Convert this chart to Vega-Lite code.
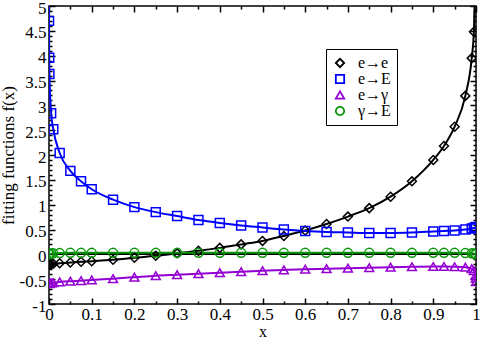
{
  "$schema": "https://vega.github.io/schema/vega-lite/v6.json",
  "width": 427,
  "height": 298,
  "autosize": "none",
  "padding": {"left": 49, "top": 6, "right": 6, "bottom": 35},
  "background": "white",
  "config": {
    "view": {"stroke": "black", "strokeWidth": 1.5},
    "axis": {"domain": false, "grid": false, "tickColor": "black", "tickWidth": 1.5, "labelColor": "black", "titleColor": "black"}
  },
  "data": {"values": [
    {"x": 0.0001, "s": "e→e", "y": -0.2}, {"x": 0.0005, "s": "e→e", "y": -0.2}, {"x": 0.001, "s": "e→e", "y": -0.2},
    {"x": 0.005, "s": "e→e", "y": -0.195}, {"x": 0.01, "s": "e→e", "y": -0.19}, {"x": 0.025, "s": "e→e", "y": -0.18},
    {"x": 0.05, "s": "e→e", "y": -0.165}, {"x": 0.075, "s": "e→e", "y": -0.15}, {"x": 0.1, "s": "e→e", "y": -0.14},
    {"x": 0.15, "s": "e→e", "y": -0.11}, {"x": 0.2, "s": "e→e", "y": -0.07}, {"x": 0.25, "s": "e→e", "y": -0.03},
    {"x": 0.3, "s": "e→e", "y": 0.02}, {"x": 0.35, "s": "e→e", "y": 0.07}, {"x": 0.4, "s": "e→e", "y": 0.13},
    {"x": 0.45, "s": "e→e", "y": 0.2}, {"x": 0.5, "s": "e→e", "y": 0.27}, {"x": 0.55, "s": "e→e", "y": 0.37},
    {"x": 0.6, "s": "e→e", "y": 0.48}, {"x": 0.65, "s": "e→e", "y": 0.61}, {"x": 0.7, "s": "e→e", "y": 0.76},
    {"x": 0.75, "s": "e→e", "y": 0.93}, {"x": 0.8, "s": "e→e", "y": 1.16}, {"x": 0.85, "s": "e→e", "y": 1.47},
    {"x": 0.9, "s": "e→e", "y": 1.9}, {"x": 0.925, "s": "e→e", "y": 2.18}, {"x": 0.95, "s": "e→e", "y": 2.57},
    {"x": 0.975, "s": "e→e", "y": 3.19}, {"x": 0.99, "s": "e→e", "y": 3.95}, {"x": 0.995, "s": "e→e", "y": 4.48},
    {"x": 0.999, "s": "e→e", "y": 6.0},

    {"x": 0.00001, "s": "e→E", "y": 6.0}, {"x": 0.0001, "s": "e→E", "y": 4.7}, {"x": 0.0005, "s": "e→E", "y": 3.96},
    {"x": 0.001, "s": "e→E", "y": 3.63}, {"x": 0.005, "s": "e→E", "y": 2.84}, {"x": 0.01, "s": "e→E", "y": 2.52},
    {"x": 0.025, "s": "e→E", "y": 2.04}, {"x": 0.05, "s": "e→E", "y": 1.68}, {"x": 0.075, "s": "e→E", "y": 1.47},
    {"x": 0.1, "s": "e→E", "y": 1.31}, {"x": 0.15, "s": "e→E", "y": 1.1}, {"x": 0.2, "s": "e→E", "y": 0.95},
    {"x": 0.25, "s": "e→E", "y": 0.85}, {"x": 0.3, "s": "e→E", "y": 0.77}, {"x": 0.35, "s": "e→E", "y": 0.69},
    {"x": 0.4, "s": "e→E", "y": 0.63}, {"x": 0.45, "s": "e→E", "y": 0.58}, {"x": 0.5, "s": "e→E", "y": 0.54},
    {"x": 0.55, "s": "e→E", "y": 0.5}, {"x": 0.6, "s": "e→E", "y": 0.47}, {"x": 0.65, "s": "e→E", "y": 0.45},
    {"x": 0.7, "s": "e→E", "y": 0.44}, {"x": 0.75, "s": "e→E", "y": 0.43}, {"x": 0.8, "s": "e→E", "y": 0.43},
    {"x": 0.85, "s": "e→E", "y": 0.44}, {"x": 0.9, "s": "e→E", "y": 0.46}, {"x": 0.925, "s": "e→E", "y": 0.47},
    {"x": 0.95, "s": "e→E", "y": 0.48}, {"x": 0.975, "s": "e→E", "y": 0.5}, {"x": 0.99, "s": "e→E", "y": 0.52},
    {"x": 0.995, "s": "e→E", "y": 0.53}, {"x": 0.999, "s": "e→E", "y": 0.54}, {"x": 0.9995, "s": "e→E", "y": 0.545},
    {"x": 0.9999, "s": "e→E", "y": 0.55},

    {"x": 0.0001, "s": "e→γ", "y": -0.59}, {"x": 0.0005, "s": "e→γ", "y": -0.585}, {"x": 0.001, "s": "e→γ", "y": -0.58},
    {"x": 0.005, "s": "e→γ", "y": -0.575}, {"x": 0.01, "s": "e→γ", "y": -0.57}, {"x": 0.025, "s": "e→γ", "y": -0.555},
    {"x": 0.05, "s": "e→γ", "y": -0.54}, {"x": 0.075, "s": "e→γ", "y": -0.53}, {"x": 0.1, "s": "e→γ", "y": -0.515},
    {"x": 0.15, "s": "e→γ", "y": -0.49}, {"x": 0.2, "s": "e→γ", "y": -0.46}, {"x": 0.25, "s": "e→γ", "y": -0.43},
    {"x": 0.3, "s": "e→γ", "y": -0.41}, {"x": 0.35, "s": "e→γ", "y": -0.39}, {"x": 0.4, "s": "e→γ", "y": -0.37},
    {"x": 0.45, "s": "e→γ", "y": -0.35}, {"x": 0.5, "s": "e→γ", "y": -0.33}, {"x": 0.55, "s": "e→γ", "y": -0.315},
    {"x": 0.6, "s": "e→γ", "y": -0.3}, {"x": 0.65, "s": "e→γ", "y": -0.29}, {"x": 0.7, "s": "e→γ", "y": -0.28},
    {"x": 0.75, "s": "e→γ", "y": -0.27}, {"x": 0.8, "s": "e→γ", "y": -0.26}, {"x": 0.85, "s": "e→γ", "y": -0.25},
    {"x": 0.9, "s": "e→γ", "y": -0.245}, {"x": 0.925, "s": "e→γ", "y": -0.245}, {"x": 0.95, "s": "e→γ", "y": -0.25},
    {"x": 0.975, "s": "e→γ", "y": -0.26}, {"x": 0.99, "s": "e→γ", "y": -0.29}, {"x": 0.995, "s": "e→γ", "y": -0.33},
    {"x": 0.999, "s": "e→γ", "y": -0.42}, {"x": 0.9995, "s": "e→γ", "y": -0.48}, {"x": 0.9999, "s": "e→γ", "y": -0.55},

    {"x": 0.0001, "s": "γ→E", "y": 0.0}, {"x": 0.0005, "s": "γ→E", "y": 0.005}, {"x": 0.001, "s": "γ→E", "y": 0.01},
    {"x": 0.005, "s": "γ→E", "y": 0.015}, {"x": 0.01, "s": "γ→E", "y": 0.02}, {"x": 0.025, "s": "γ→E", "y": 0.025},
    {"x": 0.05, "s": "γ→E", "y": 0.03}, {"x": 0.075, "s": "γ→E", "y": 0.03}, {"x": 0.1, "s": "γ→E", "y": 0.03},
    {"x": 0.15, "s": "γ→E", "y": 0.03}, {"x": 0.2, "s": "γ→E", "y": 0.03}, {"x": 0.25, "s": "γ→E", "y": 0.03},
    {"x": 0.3, "s": "γ→E", "y": 0.03}, {"x": 0.35, "s": "γ→E", "y": 0.03}, {"x": 0.4, "s": "γ→E", "y": 0.03},
    {"x": 0.45, "s": "γ→E", "y": 0.03}, {"x": 0.5, "s": "γ→E", "y": 0.03}, {"x": 0.55, "s": "γ→E", "y": 0.03},
    {"x": 0.6, "s": "γ→E", "y": 0.03}, {"x": 0.65, "s": "γ→E", "y": 0.03}, {"x": 0.7, "s": "γ→E", "y": 0.03},
    {"x": 0.75, "s": "γ→E", "y": 0.03}, {"x": 0.8, "s": "γ→E", "y": 0.03}, {"x": 0.85, "s": "γ→E", "y": 0.03},
    {"x": 0.9, "s": "γ→E", "y": 0.03}, {"x": 0.925, "s": "γ→E", "y": 0.03}, {"x": 0.95, "s": "γ→E", "y": 0.03},
    {"x": 0.975, "s": "γ→E", "y": 0.025}, {"x": 0.99, "s": "γ→E", "y": 0.02}, {"x": 0.995, "s": "γ→E", "y": 0.015},
    {"x": 0.999, "s": "γ→E", "y": 0.005}, {"x": 0.9995, "s": "γ→E", "y": 0.0}
  ]},
  "resolve": {"axis": {"x": "independent", "y": "independent"}},
  "layer": [
    {
      "mark": {"type": "rule", "color": "black", "strokeWidth": 1},
      "encoding": {"y": {"datum": 0, "type": "quantitative", "scale": {"domain": [-1, 5], "nice": false, "zero": false}, "axis": null}}
    },
    {
      "mark": {"type": "line", "strokeWidth": 2, "interpolate": "monotone", "clip": true},
      "encoding": {
        "x": {"field": "x", "type": "quantitative", "scale": {"domain": [0, 1], "nice": false, "zero": false},
          "axis": {"orient": "bottom", "values": [0, 0.1, 0.2, 0.3, 0.4, 0.5, 0.6, 0.7, 0.8, 0.9, 1], "tickSize": -6, "labelPadding": 8, "labelExpr": "'' + datum.value", "labelFlush": false, "labelFont": "Liberation Serif", "labelFontSize": 17, "title": "x", "titleFont": "Liberation Serif", "titleFontSize": 16, "titleFontWeight": "normal", "titlePadding": 1}},
        "y": {"field": "y", "type": "quantitative", "scale": {"domain": [-1, 5], "nice": false, "zero": false},
          "axis": {"orient": "left", "values": [-1, -0.5, 0, 0.5, 1, 1.5, 2, 2.5, 3, 3.5, 4, 4.5, 5], "tickSize": -6, "labelPadding": 9, "labelExpr": "'' + datum.value", "labelFlush": false, "labelOffset": 2, "labelFont": "Liberation Serif", "labelFontSize": 17, "title": "fitting functions f(x)", "titleFont": "Liberation Serif", "titleFontSize": 17, "titleFontWeight": "normal", "titlePadding": 2}},
        "color": {"field": "s", "type": "nominal", "scale": {"domain": ["e→e", "e→E", "e→γ", "γ→E"], "range": ["#000000", "#0000ff", "#9400d3", "#0a960a"]}}
      }
    },
    {
      "mark": {"type": "point", "filled": false, "strokeWidth": 1.5, "size": 80, "clip": true, "opacity": 1},
      "encoding": {
        "x": {"field": "x", "type": "quantitative",
          "axis": {"orient": "bottom", "values": [0.05, 0.15, 0.25, 0.35, 0.45, 0.55, 0.65, 0.75, 0.85, 0.95], "tickSize": -3, "labels": false, "title": null}},
        "y": {"field": "y", "type": "quantitative",
          "axis": {"orient": "left", "values": [-0.9, -0.8, -0.7, -0.6, -0.4, -0.3, -0.2, -0.1, 0.1, 0.2, 0.3, 0.4, 0.6, 0.7, 0.8, 0.9, 1.1, 1.2, 1.3, 1.4, 1.6, 1.7, 1.8, 1.9, 2.1, 2.2, 2.3, 2.4, 2.6, 2.7, 2.8, 2.9, 3.1, 3.2, 3.3, 3.4, 3.6, 3.7, 3.8, 3.9, 4.1, 4.2, 4.3, 4.4, 4.6, 4.7, 4.8, 4.9], "tickSize": -3, "labels": false, "title": null}},
        "color": {"field": "s", "type": "nominal",
          "legend": {"orient": "none", "legendX": 277, "legendY": 43, "title": null, "strokeColor": "black", "fillColor": "white", "padding": 6, "labelFont": "Liberation Serif", "labelFontSize": 16, "labelOffset": 10, "rowPadding": -2, "symbolStrokeWidth": 1.8, "symbolSize": 70, "symbolOpacity": 1}},
        "shape": {"field": "s", "type": "nominal", "scale": {"domain": ["e→e", "e→E", "e→γ", "γ→E"], "range": ["diamond", "square", "triangle-up", "circle"]},
          "legend": {"orient": "none", "legendX": 277, "legendY": 43, "title": null, "strokeColor": "black", "fillColor": "white", "padding": 6, "labelFont": "Liberation Serif", "labelFontSize": 16, "labelOffset": 10, "rowPadding": -2, "symbolStrokeWidth": 1.8, "symbolSize": 70, "symbolOpacity": 1}}
      }
    },
    {
      "mark": {"type": "point", "opacity": 0},
      "encoding": {
        "x": {"field": "x", "type": "quantitative",
          "axis": {"orient": "top", "values": [0, 0.1, 0.2, 0.3, 0.4, 0.5, 0.6, 0.7, 0.8, 0.9, 1], "tickSize": -6, "labels": false, "title": null}},
        "y": {"field": "y", "type": "quantitative",
          "axis": {"orient": "right", "values": [-1, -0.5, 0, 0.5, 1, 1.5, 2, 2.5, 3, 3.5, 4, 4.5, 5], "tickSize": -6, "labels": false, "title": null}}
      }
    },
    {
      "mark": {"type": "point", "opacity": 0},
      "encoding": {
        "x": {"field": "x", "type": "quantitative",
          "axis": {"orient": "top", "values": [0.05, 0.15, 0.25, 0.35, 0.45, 0.55, 0.65, 0.75, 0.85, 0.95], "tickSize": -3, "labels": false, "title": null}},
        "y": {"field": "y", "type": "quantitative",
          "axis": {"orient": "right", "values": [-0.9, -0.8, -0.7, -0.6, -0.4, -0.3, -0.2, -0.1, 0.1, 0.2, 0.3, 0.4, 0.6, 0.7, 0.8, 0.9, 1.1, 1.2, 1.3, 1.4, 1.6, 1.7, 1.8, 1.9, 2.1, 2.2, 2.3, 2.4, 2.6, 2.7, 2.8, 2.9, 3.1, 3.2, 3.3, 3.4, 3.6, 3.7, 3.8, 3.9, 4.1, 4.2, 4.3, 4.4, 4.6, 4.7, 4.8, 4.9], "tickSize": -3, "labels": false, "title": null}}
      }
    }
  ]
}
